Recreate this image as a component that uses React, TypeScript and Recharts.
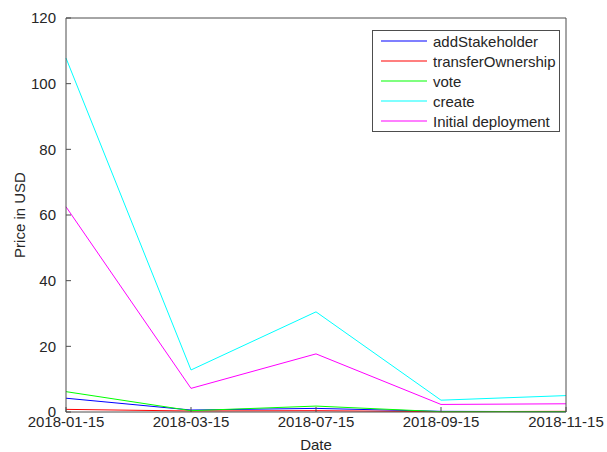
import { LineChart, Line, XAxis, YAxis, Legend } from "recharts"

const dates = ["2018-01-15", "2018-03-15", "2018-07-15", "2018-09-15", "2018-11-15"]
const addStakeholder = [4.2, 0.6, 1.1, 0.2, 0.1]
const transferOwnership = [0.8, 0.3, 0.4, 0.1, 0.2]
const vote = [6.2, 0.4, 1.8, 0.1, 0.1]
const create = [107.8, 12.8, 30.5, 3.6, 5.0]
const initialDeployment = [62.5, 7.2, 17.7, 2.3, 2.5]
const yTicks = [0, 20, 40, 60, 80, 100, 120]

const series = [
  { key: "addStakeholder", name: "addStakeholder", color: "#0000ff" },
  { key: "transferOwnership", name: "transferOwnership", color: "#ff0000" },
  { key: "vote", name: "vote", color: "#00ff00" },
  { key: "create", name: "create", color: "#00ffff" },
  { key: "initialDeployment", name: "Initial deployment", color: "#ff00ff" },
]

const data = dates.map((date, i) => ({
  date,
  addStakeholder: addStakeholder[i],
  transferOwnership: transferOwnership[i],
  vote: vote[i],
  create: create[i],
  initialDeployment: initialDeployment[i],
}))

const font = "'Liberation Sans', Arial, sans-serif"
const axisColor = "#4d4d4d"
const textColor = "#262626"

function LegendBox() {
  return (
    <div
      style={{
        border: `1px solid ${axisColor}`,
        background: "#fff",
        padding: "0 6px 0 8px",
        fontFamily: font,
        fontSize: 15,
        color: textColor,
        whiteSpace: "nowrap",
        boxSizing: "border-box",
        width: 188,
      }}
    >
      {series.map((s) => (
        <div key={s.key} style={{ display: "flex", alignItems: "center", height: 20 }}>
          <svg width={46} height={20} style={{ marginRight: 6, flex: "none" }}>
            <line x1={0} y1={10} x2={46} y2={10} stroke={s.color} strokeWidth={1.2} />
          </svg>
          <span>{s.name}</span>
        </div>
      ))}
    </div>
  )
}

export default function App() {
  return (
    <div style={{ position: "absolute", left: 0, top: 0, background: "#fff" }}>
      <LineChart width={607} height={452} data={data} margin={{ top: 0, right: 0, bottom: 0, left: 0 }}>
        <XAxis
          dataKey="date"
          xAxisId="bottom"
          height={40}
          interval={0}
          stroke={axisColor}
          tickSize={-5}
          tickMargin={9}
          tick={{ fill: textColor, fontSize: 15, fontFamily: font }}
          label={{
            content: () => (
              <text x={316} y={450} textAnchor="middle" fill={textColor} fontSize={15} fontFamily={font}>
                Date
              </text>
            ),
          }}
        />
        <XAxis
          dataKey="date"
          xAxisId="top"
          orientation="top"
          height={18}
          interval={0}
          stroke={axisColor}
          tickSize={-5}
          tick={false}
        />
        <YAxis
          yAxisId="left"
          width={66}
          domain={[0, 120]}
          ticks={yTicks}
          stroke={axisColor}
          tickSize={-5}
          tickMargin={15}
          tick={{ fill: textColor, fontSize: 15, fontFamily: font }}
          label={{
            content: () => (
              <text
                x={25}
                y={215}
                transform="rotate(-90, 25, 215)"
                textAnchor="middle"
                fill={textColor}
                fontSize={15}
                fontFamily={font}
              >
                Price in USD
              </text>
            ),
          }}
        />
        <YAxis
          yAxisId="right"
          orientation="right"
          width={41}
          domain={[0, 120]}
          ticks={yTicks}
          stroke={axisColor}
          tickSize={-5}
          tick={false}
        />
        {series.map((s) => (
          <Line
            key={s.key}
            xAxisId="bottom"
            yAxisId="left"
            type="linear"
            dataKey={s.key}
            name={s.name}
            stroke={s.color}
            strokeWidth={1}
            dot={false}
            isAnimationActive={false}
          />
        ))}
        <Legend
          layout="horizontal"
          verticalAlign="middle"
          align="center"
          wrapperStyle={{ top: 30, left: 372, width: 188 }}
          content={() => <LegendBox />}
        />
      </LineChart>
    </div>
  )
}
